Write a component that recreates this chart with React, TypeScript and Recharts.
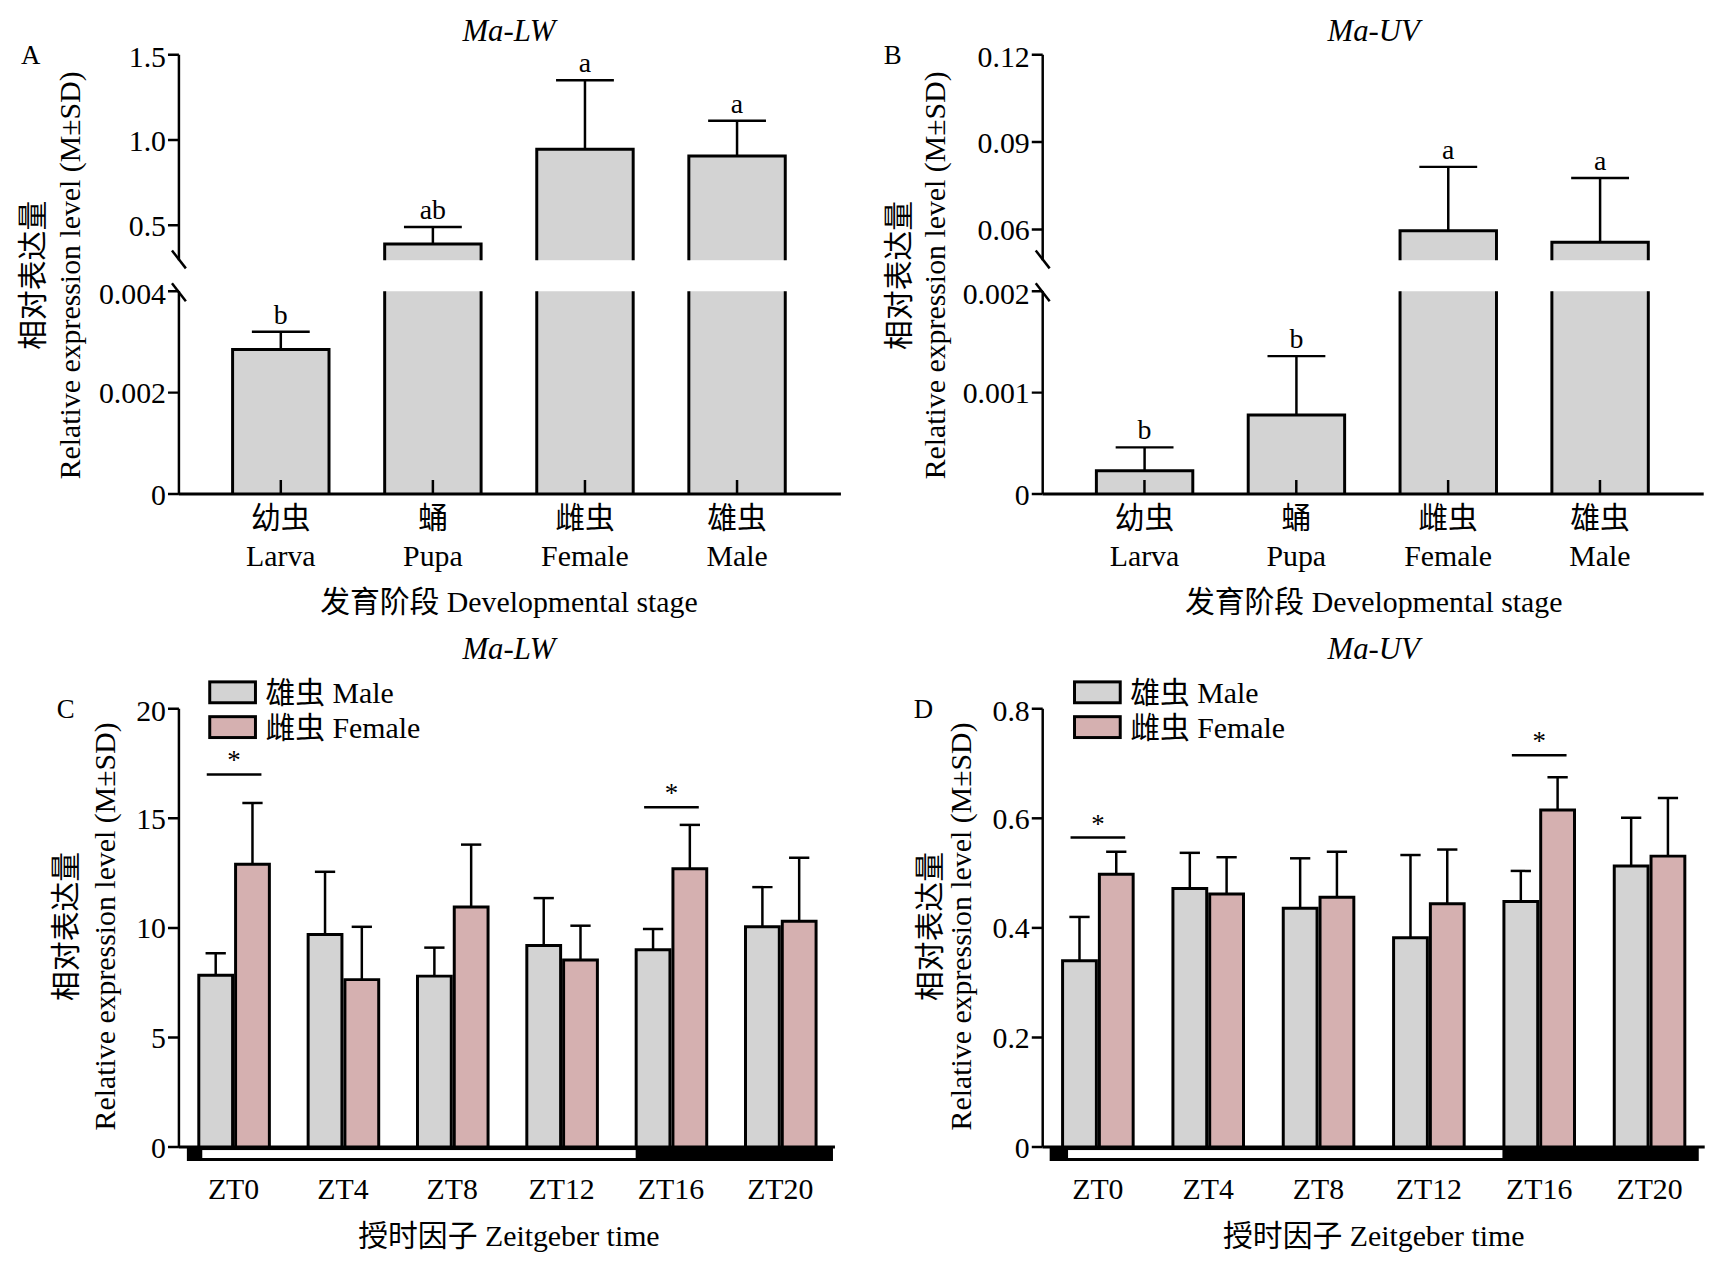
import React from "react";
import { ComposedChart, Bar, XAxis, YAxis } from "recharts";

const stageZh = ["幼虫", "蛹", "雌虫", "雄虫"];
const stageEn = ["Larva", "Pupa", "Female", "Male"];
const lwStageMean = [0.00285, 0.39, 0.945, 0.906];
const lwStageSd = [0.00035, 0.1, 0.405, 0.207];
const lwStageLetter = ["b", "ab", "a", "a"];
const uvStageMean = [0.00023, 0.00078, 0.0596, 0.0556];
const uvStageSd = [0.00023, 0.00058, 0.0219, 0.0221];
const uvStageLetter = ["b", "b", "a", "a"];

const ztLabels = ["ZT0", "ZT4", "ZT8", "ZT12", "ZT16", "ZT20"];
const lwMale = [7.84, 9.7, 7.8, 9.2, 9.0, 10.05];
const lwMaleSd = [1.0, 2.86, 1.3, 2.16, 0.95, 1.81];
const lwFemale = [12.9, 7.64, 10.95, 8.54, 12.7, 10.3];
const lwFemaleSd = [2.8, 2.41, 2.85, 1.56, 2.0, 2.9];
const lwSig = [17.0, null, null, null, 15.5, null];
const uvMale = [0.34, 0.472, 0.436, 0.382, 0.448, 0.513];
const uvMaleSd = [0.08, 0.065, 0.091, 0.151, 0.056, 0.088];
const uvFemale = [0.498, 0.462, 0.456, 0.444, 0.615, 0.531];
const uvFemaleSd = [0.041, 0.067, 0.083, 0.099, 0.06, 0.106];
const uvSig = [0.565, null, null, null, 0.715, null];

const FONT = "'Liberation Serif', 'Times New Roman', 'Noto Sans CJK SC', serif";
const GRAY = "#d3d3d3";
const PINK = "#d5b0b0";

type ShapeOpts = { base: number; key: string; sdKey: string; letterKey?: string; sigKey?: string; gap?: number };
const makeShape = (o: ShapeOpts) => (p: any) => {
  const { x, y, width, height, fill, payload } = p;
  const v = payload[o.key];
  if (v == null || !isFinite(height) || height <= 0) return <g />;
  const px = height / (v - o.base);
  const sd = payload[o.sdKey] || 0;
  const cx = x + width / 2;
  const yTop = y - sd * px;
  const cap = Math.min(width * 0.6, 60);
  const letter = o.letterKey ? payload[o.letterKey] : null;
  const sig = o.sigKey ? payload[o.sigKey] : null;
  const gap = o.gap ?? 3;
  const yb = y + height;
  return (
    <g>
      <rect x={x} y={y} width={width} height={height} fill={fill} stroke="none" />
      <path d={`M${x},${yb} L${x},${y} L${x + width},${y} L${x + width},${yb}`} fill="none" stroke="#000" strokeWidth={3} />
      {sd > 0 && (
        <g stroke="#000" strokeWidth={2.5}>
          <line x1={cx} x2={cx} y1={y} y2={yTop} />
          <line x1={cx - cap / 2} x2={cx + cap / 2} y1={yTop} y2={yTop} />
        </g>
      )}
      {letter && (
        <text x={cx} y={yTop - 8} textAnchor="middle" fontFamily={FONT} fontSize={28} fill="#000">{letter}</text>
      )}
      {sig != null && (() => {
        const ys = yb - (sig - o.base) * px;
        const l = x - width - gap + 8;
        const r = x + width - 8;
        return (
          <g>
            <line x1={l} x2={r} y1={ys} y2={ys} stroke="#000" strokeWidth={2.5} />
            <text x={(l + r) / 2} y={ys - 5} textAnchor="middle" fontFamily={FONT} fontSize={27} fill="#000">*</text>
          </g>
        );
      })()}
    </g>
  );
};

const tickStyle = { fontFamily: FONT, fontSize: 30, fill: "#000" };
const YW = 90;

function StageTick(p: any) {
  const { x, y, index } = p;
  return (
    <g>
      <line x1={x} x2={x} y1={y} y2={y - 14} stroke="#000" strokeWidth={2.5} />
      <text x={x} y={y + 34} textAnchor="middle" {...tickStyle}>{stageZh[index]}</text>
      <text x={x} y={y + 72} textAnchor="middle" {...tickStyle}>{stageEn[index]}</text>
    </g>
  );
}
function ZtTick(p: any) {
  const { x, y, index } = p;
  return <text x={x} y={y + 52} textAnchor="middle" {...tickStyle}>{ztLabels[index]}</text>;
}

type Part = {
  data: any[]; plotX: number; plotY: number; plotW: number; plotH: number; domain: [number, number];
  ticks: number[]; fmt: (v: number) => string; showX: boolean; base: number;
};
function StagePart(pp: Part) {
  const xh = pp.showX ? 90 : 0;
  return (
    <div style={{ position: "absolute", left: pp.plotX - YW, top: pp.plotY - 15 }}>
      <ComposedChart width={pp.plotW + YW + 10} height={pp.plotH + 15 + xh} data={pp.data}
        margin={{ top: 15, right: 10, left: 0, bottom: 0 }}>
        <XAxis dataKey="zh" hide={!pp.showX} height={xh} padding={{ left: 26, right: 28 }}
          axisLine={{ stroke: "#000", strokeWidth: 3 }} tickLine={false} tickSize={0} tickMargin={0}
          tick={<StageTick />} interval={0} />
        <YAxis width={YW} domain={pp.domain} ticks={pp.ticks} allowDataOverflow tickFormatter={pp.fmt}
          axisLine={{ stroke: "#000", strokeWidth: 2.5 }} tickLine={{ stroke: "#000", strokeWidth: 2.5 }}
          tickSize={11} tick={tickStyle} />
        <Bar dataKey="v" fill={GRAY} barSize={97} isAnimationActive={false}
          shape={makeShape({ base: pp.base, key: "v", sdKey: "sd", letterKey: "letter" })} />
      </ComposedChart>
    </div>
  );
}

function ZtPanel(pp: { plotX: number; male: number[]; maleSd: number[]; female: number[]; femaleSd: number[]; sig: (number | null)[]; max: number; ticks: number[]; fmt: (v: number) => string }) {
  const plotY = 713, plotH = 441, plotW = pp.plotX > 500 ? 666 : 660;
  const data = ztLabels.map((z, i) => ({ z, m: pp.male[i], ms: pp.maleSd[i], f: pp.female[i], fs: pp.femaleSd[i], sig: pp.sig[i] }));
  return (
    <div style={{ position: "absolute", left: pp.plotX - YW, top: plotY - 15 }}>
      <ComposedChart width={plotW + YW + 10} height={plotH + 15 + 80} data={data} barGap={3}
        margin={{ top: 15, right: 10, left: 0, bottom: 0 }}>
        <XAxis dataKey="z" height={80} axisLine={{ stroke: "#000", strokeWidth: 3 }} tickLine={false}
          tickSize={0} tickMargin={0} tick={<ZtTick />} interval={0} />
        <YAxis width={YW} domain={[0, pp.max]} ticks={pp.ticks} tickFormatter={pp.fmt}
          axisLine={{ stroke: "#000", strokeWidth: 2.5 }} tickLine={{ stroke: "#000", strokeWidth: 2.5 }}
          tickSize={11} tick={tickStyle} />
        <Bar dataKey="m" fill={GRAY} barSize={34} isAnimationActive={false}
          shape={makeShape({ base: 0, key: "m", sdKey: "ms" })} />
        <Bar dataKey="f" fill={PINK} barSize={34} isAnimationActive={false}
          shape={makeShape({ base: 0, key: "f", sdKey: "fs", sigKey: "sig", gap: 3 })} />
      </ComposedChart>
    </div>
  );
}

const T = (props: any) => <text fontFamily={FONT} fontSize={30} fill="#000" {...props} />;

function YLabel({ x1, x2, cy }: { x1: number; x2: number; cy: number }) {
  return (
    <g>
      <T x={x1} y={cy} textAnchor="middle" dominantBaseline="central" transform={`rotate(-90 ${x1} ${cy})`}>相对表达量</T>
      <T x={x2} y={cy} textAnchor="middle" dominantBaseline="central" transform={`rotate(-90 ${x2} ${cy})`}>Relative expression level (M±SD)</T>
    </g>
  );
}

function Legend({ x }: { x: number }) {
  return (
    <g>
      <rect x={x} y={686} width={46} height={21} fill={GRAY} stroke="#000" strokeWidth={3} />
      <T x={x + 56} y={707}>雄虫 Male</T>
      <rect x={x} y={721} width={46} height={21} fill={PINK} stroke="#000" strokeWidth={3} />
      <T x={x + 56} y={742}>雌虫 Female</T>
    </g>
  );
}

function Strip({ a, b, c, d }: { a: number; b: number; c: number; d: number }) {
  return (
    <g>
      <rect x={a} y={1154} width={b - a} height={14} fill="#000" />
      <rect x={b} y={1155.5} width={c - b} height={11} fill="#fff" stroke="#000" strokeWidth={3} />
      <rect x={c} y={1154} width={d - c} height={14} fill="#000" />
    </g>
  );
}

function BreakMarks({ x }: { x: number }) {
  return (
    <g stroke="#000" strokeWidth={2.5}>
      <line x1={x - 7} y1={252} x2={x + 7} y2={270} />
      <line x1={x - 7} y1={285} x2={x + 7} y2={303} />
    </g>
  );
}

export default function App() {
  const lwUpper = stageZh.map((zh, i) => ({ zh, v: i === 0 ? null : lwStageMean[i], sd: lwStageSd[i], letter: lwStageLetter[i] }));
  const lwLower = stageZh.map((zh, i) => ({ zh, v: lwStageMean[i], sd: i === 0 ? lwStageSd[i] : 0, letter: i === 0 ? lwStageLetter[i] : null }));
  const uvUpper = stageZh.map((zh, i) => ({ zh, v: i < 2 ? null : uvStageMean[i], sd: uvStageSd[i], letter: uvStageLetter[i] }));
  const uvLower = stageZh.map((zh, i) => ({ zh, v: uvStageMean[i], sd: i < 2 ? uvStageSd[i] : 0, letter: i < 2 ? uvStageLetter[i] : null }));
  const f1 = (v: number) => (v === 0 ? "0" : v.toFixed(1));
  const f2 = (v: number) => (v === 0 ? "0" : v.toFixed(2));
  const f3 = (v: number) => (v === 0 ? "0" : v.toFixed(3));
  return (
    <div style={{ position: "absolute", left: 0, top: 0, width: 1725, height: 1272, background: "#fff", fontFamily: FONT, transform: "scale(0.994)", transformOrigin: "0 0" }}>
      <StagePart data={lwUpper} plotX={180} plotY={55} plotW={666} plotH={207} domain={[0.294, 1.5]} ticks={[0.5, 1.0, 1.5]} fmt={f1} showX={false} base={0.294} />
      <StagePart data={lwLower} plotX={180} plotY={293} plotW={666} plotH={204} domain={[0, 0.004]} ticks={[0, 0.002, 0.004]} fmt={f3} showX base={0} />
      <StagePart data={uvUpper} plotX={1049} plotY={55} plotW={665} plotH={207} domain={[0.0494, 0.12]} ticks={[0.06, 0.09, 0.12]} fmt={f2} showX={false} base={0.0494} />
      <StagePart data={uvLower} plotX={1049} plotY={293} plotW={665} plotH={204} domain={[0, 0.002]} ticks={[0, 0.001, 0.002]} fmt={f3} showX base={0} />
      <ZtPanel plotX={180} male={lwMale} maleSd={lwMaleSd} female={lwFemale} femaleSd={lwFemaleSd} sig={lwSig} max={20} ticks={[0, 5, 10, 15, 20]} fmt={(v) => String(v)} />
      <ZtPanel plotX={1049} male={uvMale} maleSd={uvMaleSd} female={uvFemale} femaleSd={uvFemaleSd} sig={uvSig} max={0.8} ticks={[0, 0.2, 0.4, 0.6, 0.8]} fmt={f1} />
      <svg width={1725} height={1272} style={{ position: "absolute", left: 0, top: 0, pointerEvents: "none" }}>
        <T x={512} y={41} textAnchor="middle" fontStyle="italic" fontSize={31}>Ma-LW</T>
        <T x={1382} y={41} textAnchor="middle" fontStyle="italic" fontSize={31}>Ma-UV</T>
        <T x={512} y={663} textAnchor="middle" fontStyle="italic" fontSize={31}>Ma-LW</T>
        <T x={1382} y={663} textAnchor="middle" fontStyle="italic" fontSize={31}>Ma-UV</T>
        <T x={31} y={64} textAnchor="middle" fontSize={27}>A</T>
        <T x={898} y={64} textAnchor="middle" fontSize={27}>B</T>
        <T x={66} y={722} textAnchor="middle" fontSize={27}>C</T>
        <T x={929} y={722} textAnchor="middle" fontSize={27}>D</T>
        <YLabel x1={33} x2={70} cy={277} />
        <YLabel x1={904} x2={940} cy={277} />
        <YLabel x1={66} x2={105} cy={932} />
        <YLabel x1={935} x2={966} cy={932} />
        <T x={512} y={616} textAnchor="middle">发育阶段 Developmental stage</T>
        <T x={1382} y={616} textAnchor="middle">发育阶段 Developmental stage</T>
        <T x={512} y={1254} textAnchor="middle">授时因子 Zeitgeber time</T>
        <T x={1382} y={1254} textAnchor="middle">授时因子 Zeitgeber time</T>
        <BreakMarks x={180} />
        <BreakMarks x={1049} />
        <Legend x={211} />
        <Legend x={1081} />
        <Strip a={188} b={202} c={641} d={838} />
        <Strip a={1056} b={1073} c={1513} d={1709} />
      </svg>
    </div>
  );
}
